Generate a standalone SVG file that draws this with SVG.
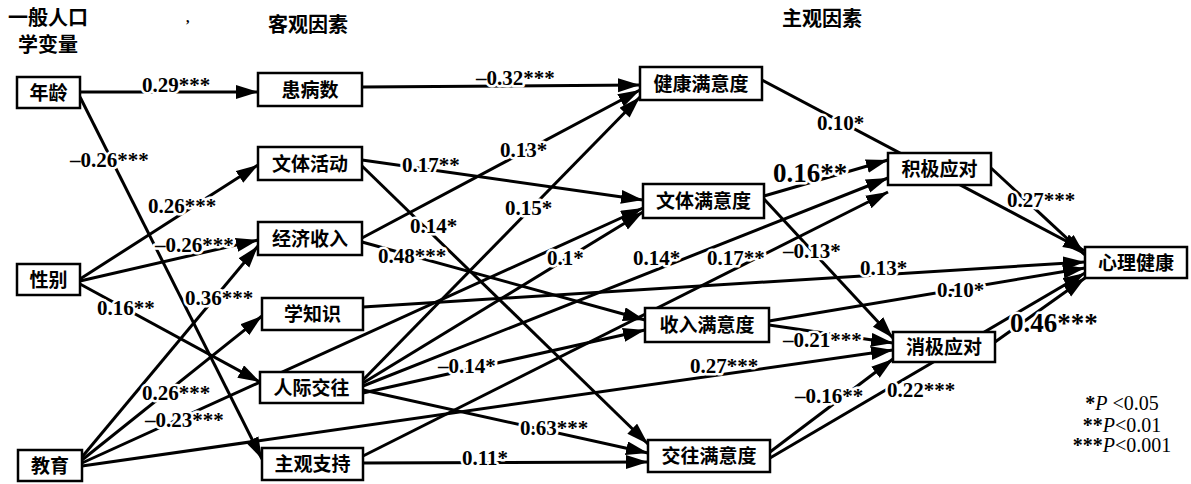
<svg xmlns="http://www.w3.org/2000/svg" width="1191" height="484" viewBox="0 0 1191 484">
<style>
.ln{stroke:#000;stroke-width:3;fill:none;marker-end:url(#ah)}
.box{fill:#fff;stroke:#000;stroke-width:2.5}
.nt{font-family:"Noto Sans CJK SC","Noto Sans",sans-serif;font-size:19px;font-weight:700;text-anchor:middle;fill:#000}
.hd{font-family:"Noto Sans CJK SC","Noto Sans",sans-serif;font-size:20px;font-weight:700;fill:#000}
.lb{font-family:"Liberation Serif",serif;font-size:21px;font-weight:700;fill:#000;stroke:#fff;stroke-width:5;stroke-linejoin:round;paint-order:stroke}
.big{font-size:27px}
.lg{font-family:"Liberation Serif",serif;font-size:20px;text-anchor:middle;fill:#000}
</style>
<defs>
<marker id="ah" markerUnits="userSpaceOnUse" markerWidth="24" markerHeight="16" refX="22" refY="7" orient="auto">
<path d="M0,0 L22,7 L0,14 z" fill="#000"/>
</marker>
</defs>
<rect width="1191" height="484" fill="#fff"/>

<g id="headers">
<text class="hd" x="8" y="25">一般人口</text>
<text class="hd" x="18" y="52">学变量</text>
<text x="186" y="22" font-family="Liberation Serif, serif" font-size="14" font-weight="700">,</text>
<text class="hd" x="268" y="32">客观因素</text>
<text class="hd" x="782" y="26">主观因素</text>
</g>

<g id="connectors">
<line class="ln" x1="80" y1="92" x2="258" y2="92"/>
<line class="ln" x1="80" y1="97" x2="262" y2="459"/>
<line class="ln" x1="80" y1="279" x2="258" y2="165"/>
<line class="ln" x1="80" y1="281" x2="258" y2="240"/>
<line class="ln" x1="80" y1="284" x2="260" y2="382"/>
<line class="ln" x1="82" y1="457" x2="258" y2="246"/>
<line class="ln" x1="82" y1="460" x2="262" y2="316"/>
<line class="ln" x1="82" y1="463" x2="643" y2="208"/>
<line class="ln" x1="82" y1="466" x2="893" y2="350"/>
<line class="ln" x1="362" y1="87" x2="640" y2="85"/>
<line class="ln" x1="362" y1="238" x2="640" y2="90"/>
<line class="ln" x1="363" y1="380" x2="640" y2="97"/>
<line class="ln" x1="362" y1="160" x2="643" y2="200"/>
<line class="ln" x1="362" y1="166" x2="648" y2="444"/>
<line class="ln" x1="362" y1="242" x2="645" y2="320"/>
<line class="ln" x1="363" y1="383" x2="643" y2="212"/>
<line class="ln" x1="363" y1="386" x2="888" y2="178"/>
<line class="ln" x1="363" y1="393" x2="645" y2="330"/>
<line class="ln" x1="363" y1="390" x2="648" y2="453"/>
<line class="ln" x1="363" y1="463" x2="648" y2="462"/>
<line class="ln" x1="363" y1="456" x2="888" y2="192"/>
<line class="ln" x1="762" y1="80" x2="1085" y2="251"/>
<line class="ln" x1="991" y1="168" x2="1085" y2="255"/>
<line class="ln" x1="764" y1="196" x2="888" y2="160"/>
<line class="ln" x1="764" y1="199" x2="893" y2="338"/>
<line class="ln" x1="769" y1="325" x2="893" y2="343"/>
<line class="ln" x1="770" y1="452" x2="893" y2="359"/>
<line class="ln" x1="770" y1="458" x2="1085" y2="273"/>
<line class="ln" x1="995" y1="342" x2="1085" y2="278"/>
<line class="ln" x1="769" y1="321" x2="1085" y2="268"/>
<line class="ln" x1="363" y1="307" x2="1085" y2="262"/>

<text class="lb" x="142" y="92">0.29***</text>
<text class="lb" x="70" y="167">–0.26***</text>
<text class="lb" x="148" y="213">0.26***</text>
<text class="lb" x="155" y="252">–0.26***</text>
<text class="lb" x="97" y="315">0.16**</text>
<text class="lb" x="185" y="305">0.36***</text>
<text class="lb" x="142" y="400">0.26***</text>
<text class="lb" x="145" y="427">–0.23***</text>
<text class="lb" x="476" y="85">–0.32***</text>
<text class="lb" x="500" y="157">0.13*</text>
<text class="lb" x="505" y="215">0.15*</text>
<text class="lb" x="402" y="172">0.17**</text>
<text class="lb" x="410" y="233">0.14*</text>
<text class="lb" x="378" y="263">0.48***</text>
<text class="lb" x="547" y="265">0.1*</text>
<text class="lb" x="633" y="265">0.14*</text>
<text class="lb" x="707" y="265">0.17**</text>
<text class="lb" x="438" y="373">–0.14*</text>
<text class="lb" x="520" y="435">0.63***</text>
<text class="lb" x="462" y="465">0.11*</text>
<text class="lb" x="817" y="130">0.10*</text>
<text class="lb big" x="773" y="182">0.16**</text>
<text class="lb" x="783" y="258">–0.13*</text>
<text class="lb" x="1007" y="207">0.27***</text>
<text class="lb" x="860" y="275">0.13*</text>
<text class="lb" x="937" y="297">0.10*</text>
<text class="lb" x="783" y="347">–0.21***</text>
<text class="lb" x="690" y="373">0.27***</text>
<text class="lb" x="795" y="403">–0.16**</text>
<text class="lb" x="887" y="397">0.22***</text>
<text class="lb big" x="1010" y="332">0.46***</text>
</g>

<g id="n-age"><rect class="box" x="17" y="77" width="63" height="31"/><text class="nt" x="48.5" y="99.5">年龄</text></g>
<g id="n-sex"><rect class="box" x="17" y="264" width="63" height="31"/><text class="nt" x="48.5" y="286.5">性别</text></g>
<g id="n-edu"><rect class="box" x="18" y="450" width="64" height="31"/><text class="nt" x="50" y="472.5">教育</text></g>
<g id="n-ill"><rect class="box" x="258" y="73" width="104" height="33"/><text class="nt" x="310" y="96.5">患病数</text></g>
<g id="n-act"><rect class="box" x="258" y="147" width="104" height="33"/><text class="nt" x="310" y="170.5">文体活动</text></g>
<g id="n-inc"><rect class="box" x="258" y="222" width="104" height="33"/><text class="nt" x="310" y="245.5">经济收入</text></g>
<g id="n-know"><rect class="box" x="262" y="298" width="101" height="32"/><text class="nt" x="312.5" y="321">学知识</text></g>
<g id="n-soc"><rect class="box" x="260" y="372" width="103" height="31"/><text class="nt" x="311.5" y="394.5">人际交往</text></g>
<g id="n-sup"><rect class="box" x="262" y="448" width="101" height="32"/><text class="nt" x="312.5" y="471">主观支持</text></g>
<g id="n-hsat"><rect class="box" x="640" y="67" width="122" height="33"/><text class="nt" x="701" y="90.5">健康满意度</text></g>
<g id="n-asat"><rect class="box" x="643" y="184" width="121" height="34"/><text class="nt" x="703.5" y="208">文体满意度</text></g>
<g id="n-isat"><rect class="box" x="645" y="308" width="124" height="34"/><text class="nt" x="707" y="332">收入满意度</text></g>
<g id="n-ssat"><rect class="box" x="648" y="440" width="122" height="32"/><text class="nt" x="709" y="463">交往满意度</text></g>
<g id="n-pos"><rect class="box" x="888" y="153" width="103" height="32"/><text class="nt" x="939.5" y="176">积极应对</text></g>
<g id="n-neg"><rect class="box" x="893" y="332" width="102" height="30"/><text class="nt" x="944" y="354">消极应对</text></g>
<g id="n-mh"><rect class="box" x="1085" y="247" width="102" height="31"/><text class="nt" x="1136" y="269.5">心理健康</text></g>

<g id="legend">
<text class="lg" x="1122" y="410"><tspan font-weight="700">*</tspan><tspan font-style="italic">P</tspan> &lt;0.05</text>
<text class="lg" x="1122" y="432"><tspan font-weight="700">**</tspan><tspan font-style="italic">P</tspan>&lt;0.01</text>
<text class="lg" x="1122" y="452"><tspan font-weight="700">***</tspan><tspan font-style="italic">P</tspan>&lt;0.001</text>
</g>
</svg>
